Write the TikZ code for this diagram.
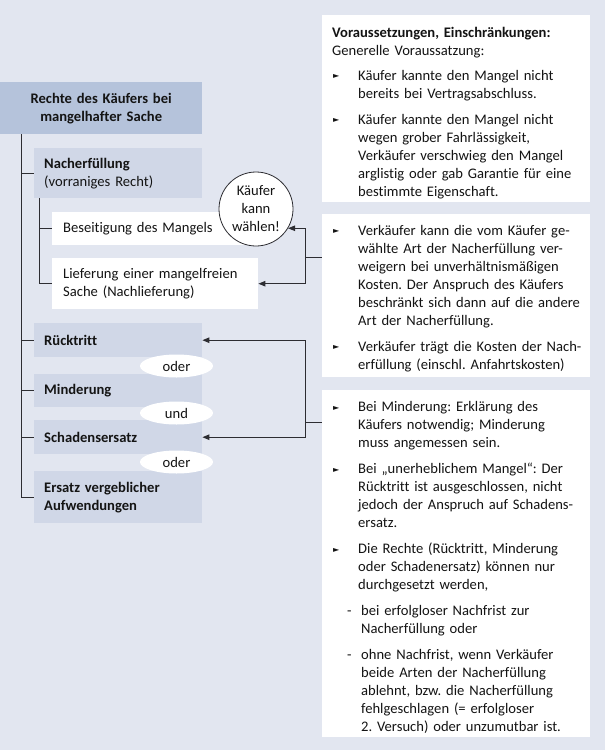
\documentclass[tikz,border=0pt]{standalone}
\usepackage{fontspec}
\setmainfont{Carlito}[Ligatures=NoCommon]
\newfontfamily\symfont{DejaVu Sans}
\usetikzlibrary{shapes.geometric,arrows.meta}
\definecolor{bgc}{RGB}{226,230,240}
\definecolor{titlec}{RGB}{181,195,219}
\definecolor{subc}{RGB}{208,215,231}
\definecolor{linec}{RGB}{45,45,50}
\definecolor{txtc}{RGB}{20,20,20}
\frenchspacing
\newcommand\mysize{\fontsize{14.6pt}{18pt}\selectfont}
\newcommand\bul{\raisebox{1.2pt}{\symfont\fontsize{8pt}{8pt}\selectfont ►}}
\newcommand\bitem[1]{\par\vspace{7pt}\noindent\hspace*{1pt}\makebox[25pt][l]{\bul}\begin{tabular}[t]{@{}l@{}}#1\end{tabular}\par}
\newcommand\ditem[1]{\par\vspace{7pt}\noindent\hspace*{15pt}\makebox[14pt][l]{-}\begin{tabular}[t]{@{}l@{}}#1\end{tabular}\par}
\begin{document}
\begin{tikzpicture}[x=1pt,y=1pt,
  every node/.style={font=\mysize, text=txtc},
  line/.style={draw=linec, line width=0.9pt},
  arr/.style={line, -{Triangle[length=7pt,width=5.5pt]}},
  lbox/.style={fill=subc, anchor=north west, inner xsep=10pt, inner ysep=0pt, align=left, minimum width=168pt, text width=148pt},
  wbox/.style={fill=white, anchor=north west, inner xsep=11pt, inner ysep=0pt, align=left, minimum width=206pt, text width=184pt},
  rbox/.style={fill=white, anchor=north west, inner xsep=10pt, inner ysep=0pt, align=left, minimum width=268pt, text width=248pt},
  ell/.style={ellipse, fill=white, minimum width=73pt, minimum height=23pt, inner sep=0pt}]
\fill[bgc] (0,0) rectangle (605,-750);
\useasboundingbox (0,0) rectangle (605,-750);
% left tree
\node[fill=titlec, anchor=north west, minimum width=202pt, minimum height=52pt, text width=190pt, inner xsep=6pt, inner ysep=0pt, align=center, font=\mysize\bfseries] (title) at (0,-82) {Rechte des Käufers bei\\mangelhafter Sache};
\node[lbox, minimum height=50pt] (nach) at (34,-148) {\textbf{Nacherfüllung}\\(vorraniges Recht)};
\node[wbox, minimum height=33pt] (bes) at (52,-212) {Beseitigung des Mangels};
\node[wbox, minimum height=51pt] (lief) at (52,-258) {Lieferung einer mangelfreien\\Sache (Nachlieferung)};
\node[lbox, minimum height=34pt, font=\mysize\bfseries] (rueck) at (34,-323) {Rücktritt};
\node[lbox, minimum height=33pt, font=\mysize\bfseries] (mind) at (34,-374) {Minderung};
\node[lbox, minimum height=34pt, font=\mysize\bfseries] (schad) at (34,-420) {Schadensersatz};
\node[lbox, minimum height=52pt, font=\mysize\bfseries] (ersatz) at (34,-471) {Ersatz vergeblicher\\Aufwendungen};
\node[ell] (o1) at (176.5,-366) {oder};
\node[ell] (u1) at (176.5,-413) {und};
\node[ell] (o2) at (176.5,-462) {oder};
\node[circle, draw=linec, line width=0.8pt, fill=white, minimum size=74pt, inner sep=0pt, align=center] (waehl) at (256,-209) {Käufer\\kann\\wählen!};
\coordinate (mx) at (21,0);
\coordinate (sx) at (39,0);
\draw[line] (title.south -| mx) |- (ersatz.west);
\draw[line] (nach.west -| mx) -- (nach.west);
\draw[line] (rueck.west -| mx) -- (rueck.west);
\draw[line] (mind.west -| mx) -- (mind.west);
\draw[line] (schad.west -| mx) -- (schad.west);
\draw[line] (nach.south -| sx) |- (lief.west);
\draw[line] (bes.west -| sx) -- (bes.west);
% right boxes
\node[rbox, minimum height=187pt] (r1) at (322,-15) {\rule{0pt}{21pt}\textbf{Voraussetzungen, Einschränkungen:}\\Generelle Voraussatzung:
\bitem{Käufer kannte den Mangel nicht\\bereits bei Vertragsabschluss.}
\bitem{Käufer kannte den Mangel nicht\\wegen grober Fahrlässigkeit,\\Verkäufer verschwieg den Mangel\\arglistig oder gab Garantie für eine\\bestimmte Eigenschaft.}};
\node[rbox, minimum height=163pt] (r2) at (322,-214) {\vspace{-7pt}\bitem{Verkäufer kann die vom Käufer ge-\\wählte Art der Nacherfüllung ver-\\weigern bei unverhältnismäßigen\\Kosten. Der Anspruch des Käufers\\beschränkt sich dann auf die andere\\Art der Nacherfüllung.}
\bitem{Verkäufer trägt die Kosten der Nach-\\erfüllung (einschl. Anfahrtskosten)}};
\node[rbox, minimum height=343pt] (r3) at (322,-390) {\vspace{-4pt}\bitem{Bei Minderung: Erklärung des\\Käufers notwendig; Minderung\\muss angemessen sein.}
\bitem{Bei „unerheblichem Mangel“: Der\\Rücktritt ist ausgeschlossen, nicht\\jedoch der Anspruch auf Schadens-\\ersatz.}
\bitem{Die Rechte (Rücktritt, Minderung\\oder Schadenersatz) können nur\\durchgesetzt werden,}
\ditem{bei erfolgloser Nachfrist zur\\Nacherfüllung oder}
\ditem{ohne Nachfrist, wenn Verkäufer\\beide Arten der Nacherfüllung\\ablehnt, bzw. die Nacherfüllung\\fehlgeschlagen (= erfolgloser\\2. Versuch) oder unzumutbar ist.}};
% connectors to right
\coordinate (j1) at (305,-257);
\coordinate (j2) at (305,-422);
\draw[line] (j1) -- (j1 -| r2.west);
\draw[arr] (j1) |- (waehl.-31.8);
\draw[arr] (j1) |- (lief.east);
\draw[line] (j2) -- (j2 -| r3.west);
\draw[arr] (j2) |- (rueck.east);
\draw[arr] (j2) |- (schad.east);
\end{tikzpicture}
\end{document}
